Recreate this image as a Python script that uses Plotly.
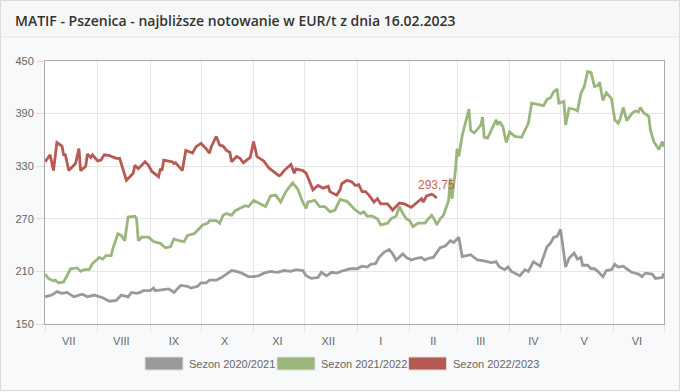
import datetime as dt
import plotly.graph_objects as go

# ---------------- data ----------------
series_names = ["Sezon 2020/2021", "Sezon 2021/2022", "Sezon 2022/2023"]
series_colors = ["#999999", "#9bb67d", "#b75a53"]
month_labels = ["VII", "VIII", "IX", "X", "XI", "XII", "I", "II", "III", "IV", "V", "VI"]
y_ticks = [150, 210, 270, 330, 390, 450]

# day offsets from 1 July of each season, and prices in EUR/t
days_2020 = [0, 4, 7, 10, 13, 17, 22, 25, 29, 34, 38, 42, 45, 49, 51, 54, 56, 58, 62, 64, 65, 70, 73, 76,
             80, 84, 86, 90, 92, 95, 97, 101, 104, 107, 110, 113, 116, 120, 123, 126, 129, 133, 137, 141,
             145, 148, 152, 154, 157, 161, 163, 166, 169, 172, 176, 180, 184, 187, 190, 192, 195, 197, 200,
             203, 205, 207, 209, 211, 213, 216, 219, 222, 224, 226, 229, 231, 233, 236, 239, 241, 244, 246,
             251, 255, 259, 263, 266, 268, 271, 273, 275, 280, 283, 285, 288, 292, 296, 298, 300, 302, 304,
             307, 309, 312, 314, 316, 317, 320, 322, 324, 326, 329, 331, 334, 336, 338, 341, 343, 346, 350,
             352, 354, 358, 360, 364, 365]
vals_2020 = [181, 183, 187, 185, 186, 181, 184, 181, 183, 180, 176, 177, 183, 181, 186, 185, 186, 188, 188,
             191, 188, 189, 190, 186, 194, 193, 191, 193, 197, 197, 200, 200, 203, 207, 211, 210, 208, 204,
             204, 205, 208, 210, 209, 211, 210, 212, 211, 205, 202, 203, 209, 205, 209, 208, 211, 213, 213,
             216, 215, 218, 219, 226, 232, 235, 230, 223, 226, 230, 226, 223, 225, 226, 223, 225, 226, 231,
             237, 239, 245, 243, 249, 227, 229, 223, 222, 220, 221, 215, 212, 215, 210, 205, 212, 210, 221,
             216, 238, 242, 249, 250, 258, 215, 225, 231, 224, 226, 217, 217, 213, 213, 210, 204, 211, 212,
             218, 215, 216, 213, 209, 207, 204, 208, 207, 202, 203, 208]

days_2021 = [0, 2, 5, 6, 8, 11, 13, 15, 19, 21, 23, 26, 28, 30, 32, 34, 36, 39, 40, 43, 45, 47, 49, 53, 54,
             55, 57, 61, 64, 68, 71, 74, 76, 79, 82, 84, 88, 90, 93, 96, 97, 101, 103, 105, 107, 110, 112,
             115, 118, 120, 123, 126, 130, 133, 136, 139, 142, 146, 149, 152, 154, 155, 159, 162, 165, 168,
             171, 174, 178, 181, 183, 186, 188, 190, 193, 196, 198, 202, 204, 207, 209, 211, 213, 215, 217,
             220, 224, 226, 228, 230, 231, 233, 235, 238, 239, 240, 241, 242, 243, 244, 246, 247, 250, 251,
             253, 255, 257, 258, 259, 261, 264, 266, 267, 268, 270, 272, 274, 277, 281, 283, 285, 287, 290,
             294, 296, 298, 300, 302, 303, 306, 307, 309, 312, 314, 316, 318, 320, 322, 324, 326, 327, 329,
             331, 334, 336, 338, 339, 341, 343, 346, 348, 350, 351, 353, 356, 357, 359, 362, 364, 365]
vals_2021 = [207, 202, 199, 200, 197, 198, 205, 213, 214, 210, 212, 212, 219, 223, 226, 224, 228, 228, 236,
             253, 251, 245, 272, 273, 270, 245, 249, 249, 244, 242, 237, 238, 247, 245, 244, 251, 253, 257,
             263, 265, 268, 268, 265, 274, 276, 274, 279, 282, 285, 284, 291, 288, 284, 296, 297, 289, 301,
             311, 304, 289, 282, 289, 291, 284, 284, 278, 280, 292, 290, 284, 280, 276, 278, 273, 273, 270,
             263, 265, 270, 273, 284, 276, 270, 268, 261, 265, 265, 270, 274, 268, 263, 270, 274, 291, 316,
             293, 310, 325, 350, 341, 365, 373, 395, 371, 368, 372, 377, 386, 363, 362, 375, 383, 377, 381,
             375, 357, 369, 364, 363, 372, 379, 402, 401, 399, 406, 408, 415, 418, 402, 404, 377, 396, 395,
             393, 413, 421, 438, 437, 421, 422, 426, 405, 414, 407, 383, 379, 383, 397, 382, 390, 393, 392,
             397, 391, 387, 371, 358, 349, 358, 352]

days_2022 = [0, 3, 5, 7, 10, 11, 12, 14, 18, 20, 21, 24, 25, 27, 28, 31, 33, 35, 38, 42, 44, 48, 52, 53, 55,
             59, 61, 63, 67, 68, 69, 70, 75, 76, 77, 81, 83, 87, 89, 92, 95, 97, 98, 101, 103, 105, 107, 109,
             110, 113, 115, 117, 121, 123, 125, 129, 132, 134, 138, 139, 141, 145, 147, 148, 152, 154, 158,
             161, 164, 167, 168, 172, 174, 175, 178, 181, 183, 185, 187, 189, 191, 194, 196, 198, 202, 205,
             207, 209, 212, 216, 219, 222, 223, 225, 228, 229, 231]
vals_2022 = [335, 343, 325, 357, 353, 343, 343, 325, 333, 350, 325, 330, 344, 340, 343, 336, 337, 343, 342,
             339, 339, 314, 322, 331, 327, 335, 331, 324, 318, 327, 325, 337, 335, 333, 334, 325, 348, 345,
             352, 356, 350, 345, 352, 364, 354, 353, 348, 346, 335, 341, 339, 334, 340, 358, 341, 336, 328,
             325, 319, 320, 325, 332, 322, 327, 325, 322, 303, 308, 305, 307, 301, 297, 303, 310, 314, 312,
             308, 309, 301, 301, 297, 289, 293, 287, 287, 280, 284, 288, 287, 283, 288, 293, 289, 296, 298,
             297, 293.75]

# ---------------- layout geometry ----------------
W, H = 680, 392
L, R, T, B = 45, 16, 61, 68
BASE = dt.date(2021, 7, 1)          # common season axis (non-leap February)


def to_dates(days):
    return [BASE + dt.timedelta(days=d) for d in days]


def px_x(px):
    return (px - L) / (W - L - R)


def px_y(py):
    return (H - B - py) / (H - T - B)


fig = go.Figure()
for name, color, d, v in zip(series_names, series_colors,
                             [days_2020, days_2021, days_2022],
                             [vals_2020, vals_2021, vals_2022]):
    fig.add_trace(go.Scatter(x=to_dates(d), y=v, mode="lines", name=name,
                             line=dict(color=color, width=2.8), showlegend=False))

# last value label
last_x = to_dates(days_2022)[-1]
last_v = vals_2022[-1]
fig.add_annotation(x=last_x, y=last_v, text=f"{last_v:.2f}".replace(".", ","), showarrow=False,
                   yshift=13, font=dict(family="Liberation Sans, Arial, sans-serif", size=12, color="#c8625b"))

month_starts = [dt.date(2021 + (7 + i - 1) // 12, (7 + i - 1) % 12 + 1, 1) for i in range(13)]
month_mid = [dt.date(m.year, m.month, 15) for m in month_starts[:12]]

axis_font = dict(family="Liberation Sans, Arial, sans-serif", size=11, color="#666666")
fig.update_xaxes(type="date", range=[month_starts[0], month_starts[-1]],
                 tickmode="array", tickvals=month_mid, ticktext=month_labels,
                 showgrid=False, ticks="", tickfont=axis_font, ticklabelstandoff=7,
                 minor=dict(tickmode="array", tickvals=month_starts, showgrid=True, gridcolor="#e6e6e6",
                            gridwidth=1, ticks="outside", ticklen=8, tickcolor="#e6e6e6"),
                 showline=True, linecolor="#aaaaaa", linewidth=1, mirror=True, zeroline=False,
                 fixedrange=True)
fig.update_yaxes(range=[150, 450], tickmode="array", tickvals=y_ticks, showgrid=True,
                 gridcolor="#e6e6e6", ticks="outside", ticklen=8, tickcolor="#dddddd",
                 tickfont=axis_font, showline=True, linecolor="#aaaaaa", linewidth=1, mirror=True,
                 zeroline=False, fixedrange=True)

shapes = []
# card border
shapes.append(dict(type="rect", xref="paper", yref="paper", x0=px_x(0.5), x1=px_x(679.5),
                   y0=px_y(390.5), y1=px_y(0.5), line=dict(color="#dcdcdc", width=1),
                   fillcolor="rgba(0,0,0,0)", layer="below"))
# header band
shapes.append(dict(type="rect", xref="paper", yref="paper", x0=px_x(1), x1=px_x(679),
                   y0=px_y(37), y1=px_y(1), line=dict(width=0), fillcolor="#f7f7f7", layer="below"))
shapes.append(dict(type="line", xref="paper", yref="paper", x0=px_x(1), x1=px_x(679),
                   y0=px_y(37), y1=px_y(37), line=dict(color="#e3e3e3", width=1), layer="below"))

# custom legend (box swatches)
legend_box_x = [145, 277, 408.5]
annotations = []
for name, color, bx in zip(series_names, series_colors, legend_box_x):
    shapes.append(dict(type="rect", xref="paper", yref="paper", x0=px_x(bx), x1=px_x(bx + 38),
                       y0=px_y(370), y1=px_y(357), line=dict(color="#dddddd", width=1),
                       fillcolor=color))
    annotations.append(dict(xref="paper", yref="paper", x=px_x(bx + 42), y=px_y(363.5), text=name,
                            showarrow=False, xanchor="left", yanchor="middle",
                            font=dict(family="Liberation Sans, Arial, sans-serif", size=11, color="#666666")))
for a in annotations:
    fig.add_annotation(**a)

fig.update_layout(
    width=W, height=H, autosize=False,
    margin=dict(l=L, r=R, t=T, b=B, pad=0),
    paper_bgcolor="#f8f9fa", plot_bgcolor="#ffffff",
    shapes=shapes,
    showlegend=False,
    hovermode=False,
    title=dict(text="MATIF - Pszenica - najbliższe notowanie w EUR/t z dnia 16.02.2023",
               x=15 / W, xref="container", xanchor="left",
               y=1 - 21 / H, yref="container", yanchor="middle",
               font=dict(family="Open Sans, sans-serif", size=14, color="#333333", weight=600)),
)

fig.write_html("out.html", config={"displayModeBar": False},
               post_script="document.body.style.margin='0';document.body.style.padding='0';")
